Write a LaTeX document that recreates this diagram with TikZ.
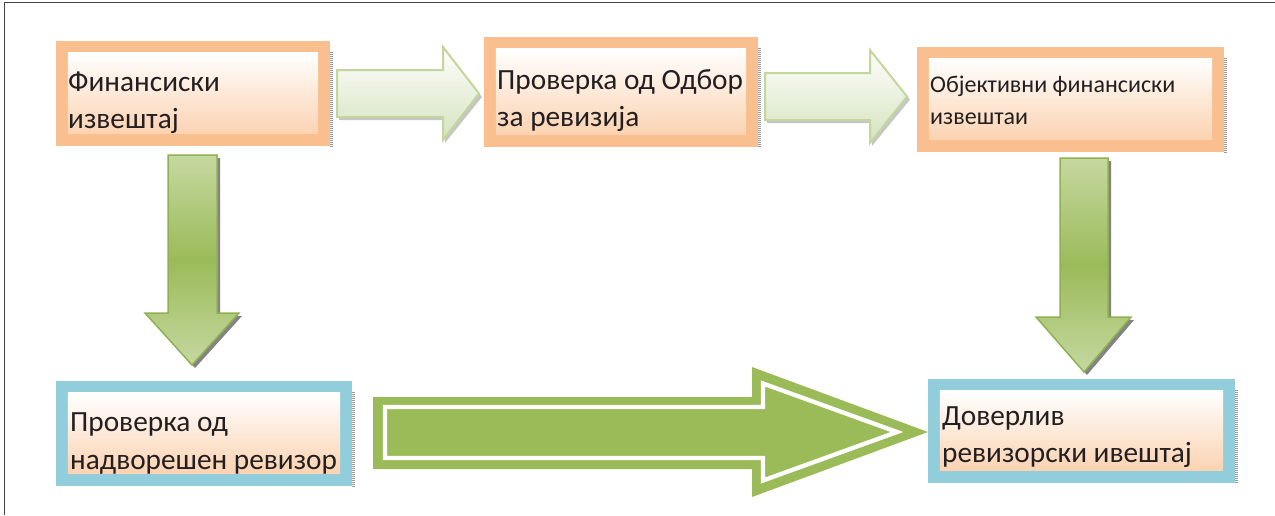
\documentclass[tikz,border=0pt]{standalone}
\usepackage{fontspec}
\setmainfont{Carlito}
\usetikzlibrary{calc}
\definecolor{orbord}{HTML}{F9BF8F}
\definecolor{blbord}{HTML}{92CDDC}
\definecolor{peach}{HTML}{FBD3B2}
\definecolor{dgmid}{HTML}{9BBB59}
\definecolor{dglight}{HTML}{C5D8A0}
\definecolor{dgborder}{HTML}{8FB152}
\definecolor{sgborder}{HTML}{C3D69B}
\definecolor{sgfill}{HTML}{D5E3BE}
\definecolor{bigg}{HTML}{9BBB59}
\definecolor{txtc}{HTML}{231F20}
\definecolor{framec}{HTML}{444444}
\newcommand\twolines[3]{\vtop{\baselineskip=#1\lineskiplimit=-100pt\hbox{#2}\hbox{#3}}}
\newcommand\bigfont{\fontsize{29.3}{36}\selectfont}
\newcommand\midfont{\fontsize{24}{31}\selectfont}
\begin{document}
\begin{tikzpicture}[x=1pt,y=-1pt,
  obox/.style={rectangle, fill=orbord, draw=none, inner sep=0pt},
  bbox/.style={rectangle, fill=blbord, draw=none, inner sep=0pt},
  inshade/.style={top color=white, bottom color=peach},
  txt/.style={anchor=base west, inner sep=0pt, text=txtc},
  boxshadow/.style={line width=3pt, dash pattern=on 1pt off 1pt, draw=gray!80},
  sarrow/.style={draw=sgborder, line width=2pt, line join=miter, top color=white!97!sgfill, bottom color=sgfill},
  sshadow/.style={fill=black!50, opacity=0.45},
  darrow/.style={draw=dgborder, line width=1.5pt, line join=miter, top color=dglight, bottom color=dglight, middle color=dgmid},
  dshadow/.style={fill=black!65, opacity=0.75}]
\useasboundingbox (0,0) rectangle (1275,515);
% frame
\draw[framec, line width=1.5pt] (4.5,515) -- (4.5,2.5) -- (1275,2.5);

% boxes
\node[obox, minimum width=274pt, minimum height=105pt] (b1) at (193,93.5) {};
\node[obox, minimum width=274pt, minimum height=110pt] (b2) at (621,92) {};
\node[obox, minimum width=307pt, minimum height=105pt] (b3) at (1070.5,99.5) {};
\node[bbox, minimum width=296pt, minimum height=105pt] (b4) at (204,433.5) {};
\node[bbox, minimum width=307pt, minimum height=104pt] (b5) at (1081.5,431) {};

\foreach \b in {b1,b2,b3,b4,b5}{
  \shade[inshade] ($(\b.north west)+(12,12)$) rectangle ($(\b.south east)+(-12,-13)$);
  \draw[boxshadow] ($(\b.north east)+(1.5,11)$) -- ($(\b.south east)+(1.5,0)$);
}

% texts
\node[txt, font=\bigfont] (t1) at (68,91.7) {\twolines{37pt}{Финансиски}{извештај}};
\node[txt, font=\bigfont] (t2) at (497,89) {\twolines{37pt}{Проверка од Одбор}{за ревизија}};
\node[txt, font=\midfont] (t3) at (930,92.7) {\twolines{32pt}{Објективни финансиски}{извештаи}};
\node[txt, font=\bigfont] (t4) at (70,431) {\twolines{38pt}{Проверка од}{надворешен ревизор}};
\node[txt, font=\bigfont] (t5) at (942,425) {\twolines{37pt}{Доверлив}{ревизорски ивештај}};

% small horizontal arrows
\fill[sshadow] (339,73) -- (445,73) -- (445,50) -- (482,97) -- (445,143) -- (445,120) -- (339,120) -- cycle;
\draw[sarrow] (337,70) -- (443,70) -- (443,47) -- (479,93.5) -- (443,140) -- (443,117) -- (337,117) -- cycle;
\fill[sshadow] (767,76) -- (872,76) -- (872,53) -- (910,99.5) -- (872,146) -- (872,123) -- (767,123) -- cycle;
\draw[sarrow] (765,73) -- (870,73) -- (870,50) -- (907,96.5) -- (870,143) -- (870,120) -- (765,120) -- cycle;

% down arrows
\fill[dshadow] (171,158) -- (220,158) -- (220,316) -- (242,316) -- (195,368) -- (148,316) -- (171,316) -- cycle;
\draw[darrow] (168,155) -- (217,155) -- (217,313) -- (239,313) -- (192,365) -- (145,313) -- (168,313) -- cycle;
\fill[dshadow] (1063,161) -- (1111,161) -- (1111,320) -- (1134,320) -- (1087,375) -- (1039,320) -- (1063,320) -- cycle;
\draw[darrow] (1060,158) -- (1108,158) -- (1108,317) -- (1131,317) -- (1084,372) -- (1036,317) -- (1060,317) -- cycle;

% big arrow
\fill[bigg] (373,397) -- (752,397) -- (752,367) -- (928,432) -- (752,497) -- (752,469) -- (373,469) -- cycle;
\filldraw[fill=bigg, draw=white, line width=4.3pt, line join=miter] (385,407) -- (763,407) -- (763,383.5) -- (897,432) -- (763,480.5) -- (763,458) -- (385,458) -- cycle;
\end{tikzpicture}
\end{document}
